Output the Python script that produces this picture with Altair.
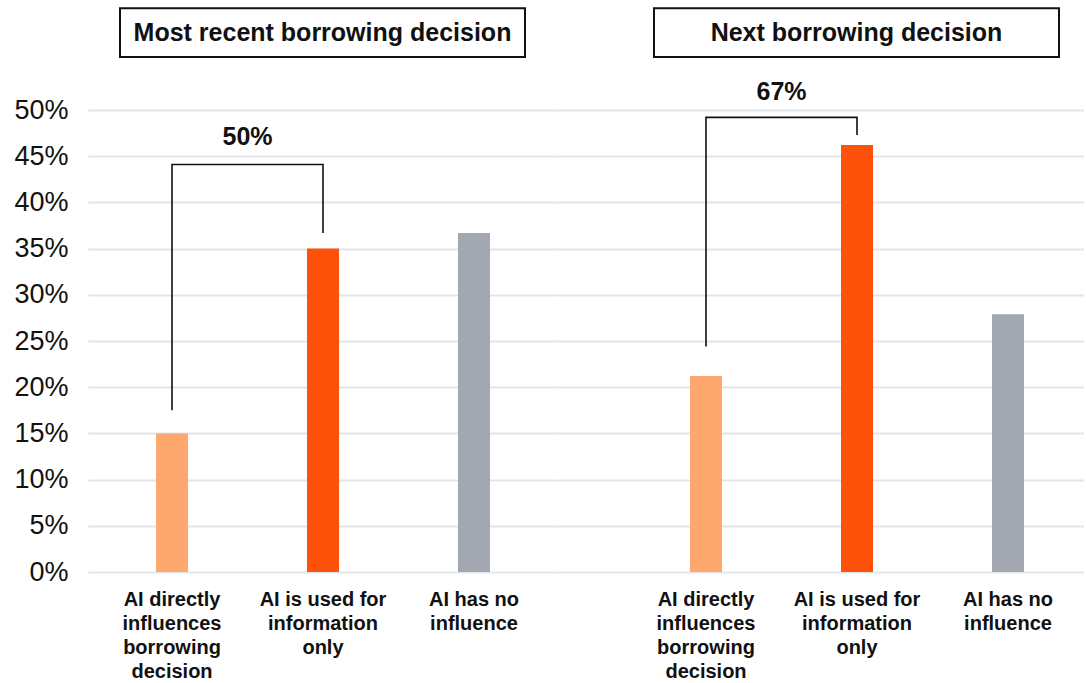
import json

import altair as alt
import pandas as pd

# Survey answers, in percent of respondents
categories = [
    "AI directly influences borrowing decision",
    "AI is used for information only",
    "AI has no influence",
]
category_lines = [
    ["AI directly", "influences", "borrowing", "decision"],
    ["AI is used for", "information", "only"],
    ["AI has no", "influence"],
]
panel_titles = ["Most recent borrowing decision", "Next borrowing decision"]
recent_share = [15.0, 35.0, 36.7]
next_share = [21.2, 46.2, 27.9]
bar_colors = ["#FEA86F", "#FE5109", "#A2A7B1"]

# Bracket joining the two "AI is involved" bars: left foot, top, right foot
recent_bracket = [17.5, 44.1, 36.7]
next_bracket = [24.4, 49.2, 47.3]
bracket_label_level = [47.1, 51.9]

y_ticks = list(range(0, 55, 5))

FONT = "Liberation Sans"
INK = "#111111"
GRID = "#E2E5E9"
PLOT_H = 462
STEP = 151

label_expr = (
    " : ".join(
        f"datum.label == {json.dumps(c)} ? {json.dumps(lines)}"
        for c, lines in zip(categories, category_lines)
    )
    + " : datum.label"
)


def panel(title, shares, bracket, label_level, width, pad_outer, align,
          show_y, box_x):
    x_axis = alt.Axis(
        title=None, labelExpr=label_expr, labelAngle=0, labelFont=FONT,
        labelFontSize=20, labelFontWeight="bold", labelColor=INK,
        labelLineHeight=24, labelPadding=17, labelBaseline="top",
        labelLimit=400, ticks=False, domain=False,
    )
    x_scale = alt.Scale(domain=categories, paddingInner=0.788,
                        paddingOuter=pad_outer, align=align)
    if show_y:
        y_axis = alt.Axis(
            title=None, values=y_ticks, labelExpr="datum.value + '%'",
            labelFont=FONT, labelFontSize=27, labelColor=INK,
            labelPadding=20, ticks=False, domain=False, grid=True,
        )
    else:
        y_axis = alt.Axis(title=None, values=y_ticks, labels=False,
                          ticks=False, domain=False, grid=True)
    y_scale = alt.Scale(domain=[0, 50])

    bars_df = pd.DataFrame({"category": categories, "share": shares,
                            "color": bar_colors})
    bars = alt.Chart(bars_df).mark_bar().encode(
        x=alt.X("category:N", scale=x_scale, axis=x_axis, sort=categories),
        y=alt.Y("share:Q", scale=y_scale, axis=y_axis),
        color=alt.Color("color:N", scale=None),
    )

    first, second = categories[0], categories[1]
    bracket_df = pd.DataFrame({
        "category": [first, first, second, second],
        "share": [bracket[0], bracket[1], bracket[1], bracket[2]],
        "step": [0, 1, 2, 3],
    })
    bracket_line = alt.Chart(bracket_df).mark_line(
        color=INK, strokeWidth=1.6
    ).encode(
        x=alt.X("category:N", sort=categories),
        y=alt.Y("share:Q"),
        order="step:Q",
    )

    combined = round(shares[0] + shares[1])
    label_df = pd.DataFrame({"category": [first], "share": [label_level],
                             "text": [f"{combined}%"]})
    bracket_label = alt.Chart(label_df).mark_text(
        dx=STEP / 2, font=FONT, fontSize=25, fontWeight="bold", color=INK
    ).encode(
        x=alt.X("category:N", sort=categories),
        y=alt.Y("share:Q"),
        text="text:N",
    )

    title_df = pd.DataFrame({"title": [title]})
    box = alt.Chart(title_df).mark_rect(
        fill="white", stroke=INK, strokeWidth=2
    ).encode(
        x=alt.value(box_x), x2=alt.value(box_x + 405),
        y=alt.value(-101.7), y2=alt.value(-53),
    )
    box_text = alt.Chart(title_df).mark_text(
        font=FONT, fontSize=25, fontWeight="bold", color=INK,
        align="center", baseline="middle",
    ).encode(
        x=alt.value(box_x + 202.5), y=alt.value(-77.4), text="title:N"
    )

    return alt.layer(bars, bracket_line, bracket_label, box, box_text
                     ).properties(width=width, height=PLOT_H)


left = panel(panel_titles[0], recent_share, recent_bracket,
             bracket_label_level[0], 470, 0.4503, 0.5, True, 32)
right = panel(panel_titles[1], next_share, next_bracket,
              bracket_label_level[1], 526, 0.6357, 0.6875, False, 96)

chart = (
    alt.hconcat(left, right, spacing=0, bounds="flush")
    .properties(padding={"left": 13, "top": 7, "right": 0, "bottom": 0},
                background="white")
    .configure_view(stroke=None)
    .configure_axis(gridColor=GRID, gridWidth=2)
)

chart.save("out.html", embed_options={"renderer": "svg", "actions": False})
